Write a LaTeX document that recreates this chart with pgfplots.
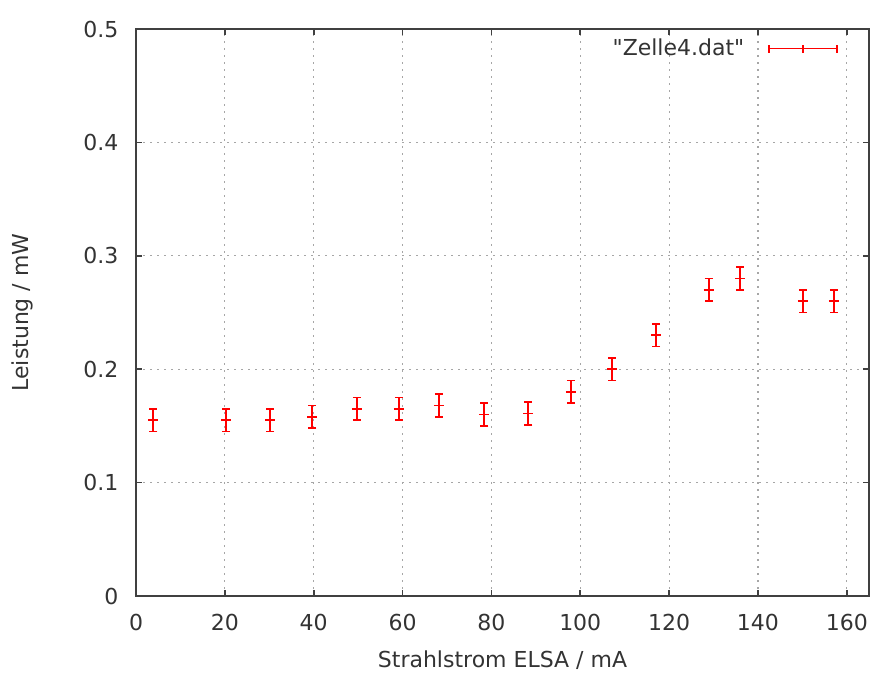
\documentclass[border=0pt]{standalone}
\usepackage{fontspec}
\setmainfont{DejaVu Sans}[Ligatures=TeXOff]
\usepackage{pgfplots}
\pgfplotsset{compat=1.18}
\begin{document}
\fontsize{11pt}{13pt}\selectfont
\begin{tikzpicture}[x=1pt,y=1pt]
\useasboundingbox (-68,-38.5) rectangle (367,298);
\begin{axis}[
  at={(0,0)}, anchor=south west,
  scale only axis,
  width=366.5pt, height=283.5pt,
  xmin=0, xmax=165, ymin=0, ymax=0.5,
  xtick={0,20,...,160},
  ytick={0,0.1,...,0.5},
  yticklabel style={/pgf/number format/fixed,/pgf/number format/precision=1},
  /pgf/number format/assume math mode=true,
  tick align=inside,
  major tick length=3pt,
  tick style={black!75, line width=0.8pt},
  axis line style={black!75, line width=1pt},
  grid=major,
  major grid style={gray!70, line width=0.6pt, dash pattern=on 1pt off 2.5pt},
  xlabel={Strahlstrom ELSA / mA},
  ylabel={Leistung / mW},
  xlabel style={at={(axis description cs:0.5,-0.1129)}, anchor=center, text=black!80},
  ylabel style={at={(axis description cs:-0.155,0.5)}, anchor=center, text=black!80},
  ticklabel style={text=black!80},
  xticklabel style={yshift=-5pt},
  yticklabel style={xshift=-5pt},
  legend style={draw=none, fill=none, at={(0.9666,0.998)}, anchor=north east, text=black!80,
    /tikz/every odd column/.append style={column sep=10pt}},
  legend plot pos=right,
  legend cell align=right,
]
\addlegendimage{legend image code/.code={
    \draw[draw=red, line width=0.9pt] (0pt,0pt) -- (34pt,0pt);
    \draw[draw=red, line width=0.9pt] (0pt,-2pt) -- (0pt,2pt);
    \draw[draw=red, line width=0.9pt] (34pt,-2pt) -- (34pt,2pt);
    \draw[draw=red, line width=0.9pt] (17pt,-2pt) -- (17pt,2pt);
  }}
\addlegendentry{"Zelle4.dat"}
\addplot[red, only marks, mark=+, mark size=2.5pt, line width=0.9pt, forget plot,
  error bars/.cd, y dir=both, y explicit,
  error bar style={red, line width=0.9pt},
  error mark options={red, rotate=90, mark size=2pt, line width=0.9pt}]
  table[x=x, y=y, y error=e] {
x y e
3.9 0.155 0.01
20.3 0.155 0.01
30.2 0.155 0.01
39.7 0.158 0.01
49.7 0.165 0.01
59.2 0.165 0.01
68.2 0.168 0.01
78.4 0.160 0.01
88.3 0.161 0.01
97.9 0.180 0.01
107.2 0.200 0.01
117.1 0.230 0.01
128.9 0.270 0.01
136.0 0.280 0.01
150.1 0.260 0.01
157.1 0.260 0.01
};
\end{axis}
\end{tikzpicture}
\end{document}
